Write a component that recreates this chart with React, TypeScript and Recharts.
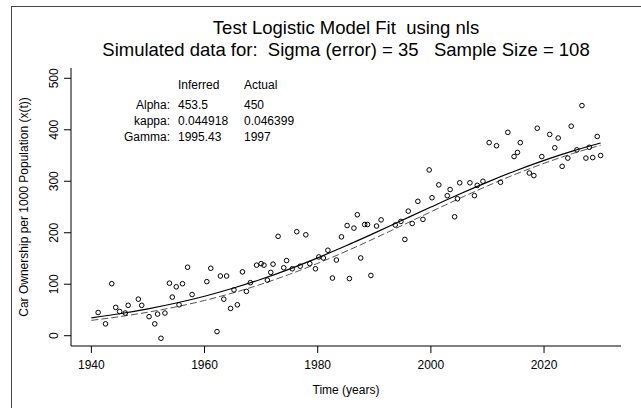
import {
  ComposedChart,
  Scatter,
  Line,
  XAxis,
  YAxis,
} from 'recharts';

// observed (simulated) points
const obsYears = [
  1941.2, 1942.5, 1943.6, 1944.3, 1945.0, 1946.0, 1946.5, 1948.3, 1948.9, 1950.2,
  1951.2, 1951.7, 1952.3, 1953.0, 1953.8, 1954.3, 1955.0, 1955.5, 1956.1, 1957.0,
  1957.8, 1960.4, 1961.1, 1962.2, 1962.8, 1963.4, 1963.9, 1964.6, 1965.2, 1965.8,
  1966.7, 1967.4, 1968.1, 1969.2, 1970.0, 1970.5, 1971.1, 1971.7, 1972.1, 1973.0,
  1974.0, 1974.5, 1975.5, 1976.3, 1976.9, 1977.9, 1978.6, 1979.6, 1980.2, 1981.0,
  1981.8, 1982.6, 1983.3, 1984.2, 1985.2, 1985.6, 1986.4, 1987.0, 1987.6, 1988.3,
  1988.8, 1989.4, 1990.4, 1991.2, 1993.7, 1994.7, 1995.4, 1996.0, 1996.7, 1997.7,
  1998.6, 1999.7, 2000.2, 2001.4, 2002.9, 2003.4, 2004.2, 2004.7, 2005.1, 2006.9,
  2007.7, 2008.2, 2009.2, 2010.3, 2011.6, 2012.3, 2013.6, 2014.7, 2015.3, 2015.8,
  2017.4, 2018.2, 2018.8, 2019.6, 2021.0, 2021.9, 2022.5, 2023.2, 2024.2, 2024.8,
  2025.8, 2026.7, 2027.4, 2028.0, 2028.6, 2029.4, 2030.0,
];
const obsValues = [
  45, 23, 101, 55, 47, 44, 59, 71, 59, 37,
  23, 42, -5, 44, 102, 75, 95, 60, 101, 133,
  80, 105, 131, 8, 116, 71, 116, 53, 89, 60,
  124, 86, 103, 137, 140, 137, 108, 123, 139, 193,
  132, 146, 130, 202, 135, 196, 140, 130, 153, 151,
  166, 112, 147, 192, 214, 111, 209, 235, 151, 216,
  216, 117, 213, 225, 215, 222, 187, 242, 218, 261,
  226, 322, 268, 293, 272, 284, 231, 266, 297, 297,
  272, 292, 300, 375, 369, 298, 395, 348, 356, 375,
  316, 311, 403, 348, 391, 365, 384, 329, 345, 407,
  361, 447, 345, 366, 346, 387, 350,
];

// fitted curves (inferred = solid, actual = dashed)
const fitYears = [1940, 1945, 1950, 1955, 1960, 1965, 1970, 1975, 1980, 1985, 1990, 1995, 2000, 2005, 2010, 2015, 2020, 2025, 2030];
const inferredFit = [34.7, 42.7, 52.2, 63.5, 76.7, 92.1, 109.7, 129.4, 151.2, 174.6, 199.2, 224.6, 249.9, 274.8, 298.4, 320.5, 340.5, 358.5, 374.3];
const actualFit = [29.8, 37.0, 45.7, 56.1, 68.5, 83.1, 100.0, 119.2, 140.6, 163.9, 188.8, 214.6, 240.6, 266.3, 290.9, 313.9, 334.8, 353.6, 370.0];

const xTicks = [1940, 1960, 1980, 2000, 2020];
const yTicks = [0, 100, 200, 300, 400, 500];

const tableHead = ['Inferred', 'Actual'];
const tableRows = ['Alpha:', 'kappa:', 'Gamma:'];
const inferredVals = ['453.5', '0.044918', '1995.43'];
const actualVals = ['450', '0.046399', '1997'];

const points = obsYears.map((t, i) => ({ t, v: obsValues[i] }));
const curves = fitYears.map((t, i) => ({ t, inferred: inferredFit[i], actual: actualFit[i] }));

const FONT = '"Liberation Sans", Arial, Helvetica, sans-serif';

const YTick = ({ x, y, payload }: any) => (
  <text
    x={x}
    y={y}
    transform={`rotate(-90, ${x}, ${y})`}
    textAnchor="middle"
    fontSize={12}
    fontFamily={FONT}
    fill="#000"
  >
    {payload.value}
  </text>
);

const Dot = ({ cx, cy }: any) => (
  <circle cx={cx} cy={cy} r={2.3} fill="none" stroke="#000" strokeWidth={1} />
);

const App = () => {
  return (
    <div style={{ position: 'absolute', left: 0, top: 0, width: 641, height: 408, background: '#fff', overflow: 'hidden' }}>
      {/* device border, only top and left edges fall inside the picture */}
      <div style={{ position: 'absolute', left: 11, top: 6, width: 700, height: 500, borderLeft: '1px solid #444', borderTop: '1px solid #444' }} />
      <ComposedChart
        width={641}
        height={408}
        margin={{ top: 68, right: 20, bottom: 0, left: 0 }}
        style={{ position: 'absolute', left: 0, top: 0 }}
      >
        <XAxis
          dataKey="t"
          type="number"
          domain={[1936.4, 2033.6]}
          ticks={xTicks}
          allowDataOverflow
          height={62}
          tickSize={7}
          tickMargin={7}
          stroke="#000"
          tick={{ fill: '#000', fontSize: 12, fontFamily: FONT }}
        />
        <YAxis
          type="number"
          domain={[-20, 520]}
          ticks={yTicks}
          allowDataOverflow
          width={71}
          tickSize={7}
          tickMargin={6}
          stroke="#000"
          tick={<YTick />}
        />
        <XAxis xAxisId="top" orientation="top" type="number" domain={[1936.4, 2033.6]} height={0} tick={false} tickLine={false} stroke="#000" />
        <YAxis yAxisId="right" orientation="right" type="number" domain={[-20, 520]} width={0} tick={false} tickLine={false} stroke="#000" />
        <Line data={curves} dataKey="actual" type="monotone" stroke="#555" strokeWidth={1} strokeDasharray="7 3" dot={false} isAnimationActive={false} />
        <Line data={curves} dataKey="inferred" type="monotone" stroke="#000" strokeWidth={1.2} dot={false} isAnimationActive={false} />
        <Scatter data={points} dataKey="v" shape={<Dot />} isAnimationActive={false} />
      </ComposedChart>
      <svg width={641} height={408} style={{ position: 'absolute', left: 0, top: 0, pointerEvents: 'none' }} fontFamily={FONT}>
        <text x={346} y={34} textAnchor="middle" fontSize={18.5} style={{ whiteSpace: 'pre' }}>
          {'Test Logistic Model Fit  using nls'}
        </text>
        <text x={346} y={56} textAnchor="middle" fontSize={18.5} style={{ whiteSpace: 'pre' }}>
          {'Simulated data for:  Sigma (error) = 35   Sample Size = 108'}
        </text>
        <text x={346} y={394} textAnchor="middle" fontSize={12}>Time (years)</text>
        <text x={27.5} y={207} textAnchor="middle" fontSize={12} transform="rotate(-90, 27.5, 207)">
          Car Ownership per 1000 Population (x(t))
        </text>
        <text x={178} y={89} fontSize={12}>{tableHead[0]}</text>
        <text x={244} y={89} fontSize={12}>{tableHead[1]}</text>
        {tableRows.map((r, i) => (
          <g key={r}>
            <text x={170} y={109 + i * 16} textAnchor="end" fontSize={12}>{r}</text>
            <text x={178} y={109 + i * 16} fontSize={12}>{inferredVals[i]}</text>
            <text x={244} y={109 + i * 16} fontSize={12}>{actualVals[i]}</text>
          </g>
        ))}
      </svg>
    </div>
  );
};

export default App;
